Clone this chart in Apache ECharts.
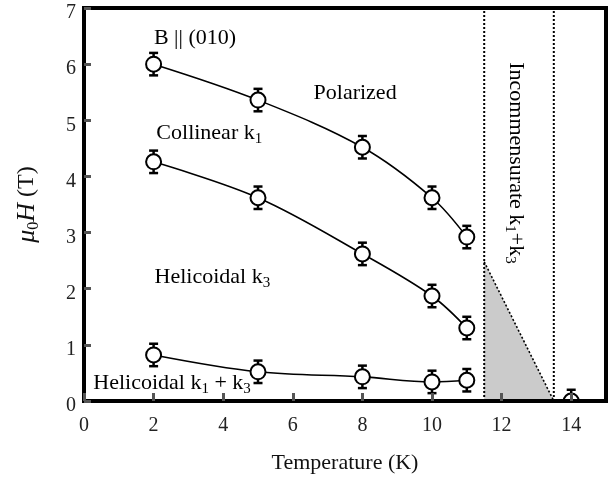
<!DOCTYPE html>
<html>
<head>
<meta charset="utf-8">
<script src="https://cdn.jsdelivr.net/npm/echarts@6/dist/echarts.min.js"></script>
<style>
  html, body { margin: 0; padding: 0; background: #fff; }
  #chart { width: 609px; height: 477px; }
</style>
</head>
<body>
<div id="chart"></div>
<script>
// Phase boundaries of the field–temperature diagram
const temps = [2, 5, 8, 10, 11];
const upperField = [6.0, 5.36, 4.52, 3.62, 2.92];
const middleField = [4.26, 3.62, 2.62, 1.87, 1.30];
const lowerField = [0.82, 0.52, 0.43, 0.34, 0.37];
const fieldError = [0.2, 0.2, 0.2, 0.2, 0.2];
const orderingPoint = [14, 0, 0.2];
const incommBounds = [11.5, 13.5];
const wedgeCorners = [[11.5, 0], [11.5, 2.48], [13.5, 0]];
const xRange = [0, 15];
const yRange = [0, 7];

const serif = 'Liberation Serif';
const ink = '#000';

const txt = { fontFamily: serif, fontSize: 22, color: '#000' };
const sub = { fontFamily: serif, fontSize: 15, color: '#000', verticalAlign: 'bottom', lineHeight: 15 };
const richText = {
  t: Object.assign({ lineHeight: 27 }, txt),
  s: sub
};

// Region names, placed in data coordinates
const regionLabels = [
  { at: [3.19, 6.47], text: '{t|B || (010)}' },
  { at: [7.79, 5.49], text: '{t|Polarized}' },
  { at: [3.6, 4.77], text: '{t|Collinear k}{s|1}' },
  { at: [3.69, 2.21], text: '{t|Helicoidal k}{s|3}' },
  { at: [2.53, 0.32], text: '{t|Helicoidal k}{s|1}{t| + k}{s|3}' },
  { at: [12.41, 4.24], text: '{t|Incommensurate k}{s|1}{t|+k}{s|3}', rotate: -90 }
];

function zip(xs, ys) { return xs.map((x, i) => [x, ys[i]]); }
function withErr(xs, ys, es) { return xs.map((x, i) => [x, ys[i], es[i]]); }

const symbolStyle = { color: '#fff', borderColor: ink, borderWidth: 2 };

function boundary(values) {
  return {
    type: 'line',
    data: zip(temps, values),
    smooth: 0.35,
    symbol: 'circle',
    symbolSize: 15,
    itemStyle: symbolStyle,
    lineStyle: { color: ink, width: 1.6 },
    z: 5,
    silent: true
  };
}

function errorBars(data, withMarker) {
  return {
    type: 'custom',
    data: data,
    clip: true,
    z: withMarker ? 6 : 3,
    silent: true,
    renderItem: function (params, api) {
      const x = api.value(0), y = api.value(1), e = api.value(2);
      const top = api.coord([x, y + e]);
      const bot = api.coord([x, y - e]);
      const c = api.coord([x, y]);
      const cap = 4.5;
      const st = { stroke: ink, lineWidth: 2.5 };
      const children = [
        { type: 'line', shape: { x1: top[0], y1: top[1], x2: bot[0], y2: bot[1] }, style: st },
        { type: 'line', shape: { x1: top[0] - cap, y1: top[1], x2: top[0] + cap, y2: top[1] }, style: st },
        { type: 'line', shape: { x1: bot[0] - cap, y1: bot[1], x2: bot[0] + cap, y2: bot[1] }, style: st }
      ];
      if (withMarker) {
        children.push({ type: 'circle', shape: { cx: c[0], cy: c[1], r: 7.5 }, style: { fill: '#fff', stroke: ink, lineWidth: 2 } });
      }
      return { type: 'group', children: children };
    }
  };
}

const dotted = { color: ink, width: 2, type: [2, 2] };

const option = {
  animation: false,
  backgroundColor: '#fff',
  grid: {
    left: 84, right: 3, top: 8, bottom: 76,
    outerBoundsMode: 'none',
    containLabel: false,
    show: true, borderWidth: 4, borderColor: ink,
    backgroundColor: 'transparent', z: 20
  },
  xAxis: {
    type: 'value', min: xRange[0], max: xRange[1], interval: 2,
    z: 21,
    splitLine: { show: false },
    axisLine: { show: false },
    axisTick: { show: true, inside: true, length: 8, lineStyle: { color: '#555', width: 3 } },
    axisLabel: { showMaxLabel: false, margin: 15, fontFamily: serif, fontSize: 20, color: '#222' },
    name: 'Temperature (K)', nameLocation: 'middle', nameGap: 51,
    nameTextStyle: { fontFamily: serif, fontSize: 22, color: '#111' }
  },
  yAxis: {
    type: 'value', min: yRange[0], max: yRange[1], interval: 1,
    z: 21,
    splitLine: { show: false },
    axisLine: { show: false },
    axisTick: { show: true, inside: true, length: 7, lineStyle: { color: '#555', width: 3 } },
    axisLabel: {
      margin: 8, verticalAlign: 'top', lineHeight: 10,
      fontFamily: serif, fontSize: 20, color: '#222'
    },
    name: '{m|μ}{z|0}{h|H}{p| (T)}', nameLocation: 'middle', nameGap: 42, nameRotate: 90,
    nameTextStyle: {
      rich: {
        m: { fontFamily: serif, fontStyle: 'italic', fontSize: 26, color: '#111', lineHeight: 30 },
        z: { fontFamily: serif, fontSize: 16, color: '#111', verticalAlign: 'bottom', lineHeight: 16 },
        h: { fontFamily: serif, fontStyle: 'italic', fontSize: 26, color: '#111', lineHeight: 30 },
        p: { fontFamily: serif, fontSize: 24, color: '#111', lineHeight: 30 }
      }
    }
  },
  series: [
    // shaded wedge of the incommensurate phase
    {
      type: 'custom',
      data: wedgeCorners,
      silent: true,
      z: 1,
      renderItem: function (params, api) {
        if (params.dataIndex !== 0) return null;
        const pts = wedgeCorners.map(p => api.coord(p));
        return {
          type: 'group',
          children: [
            { type: 'polygon', shape: { points: pts }, style: { fill: '#cbcbcb' } },
            { type: 'line', shape: { x1: pts[1][0], y1: pts[1][1], x2: pts[2][0], y2: pts[2][1] },
              style: { stroke: ink, lineWidth: 1.6, lineDash: [2, 2] } }
          ]
        };
      }
    },
    {
      type: 'line', data: [[incommBounds[0], yRange[0]], [incommBounds[0], yRange[1]]],
      symbol: 'none', lineStyle: dotted, z: 2, silent: true
    },
    {
      type: 'line', data: [[incommBounds[1], yRange[0]], [incommBounds[1], yRange[1]]],
      symbol: 'none', lineStyle: dotted, z: 2, silent: true
    },
    errorBars(withErr(temps, upperField, fieldError), false),
    errorBars(withErr(temps, middleField, fieldError), false),
    errorBars(withErr(temps, lowerField, fieldError), false),
    boundary(upperField),
    boundary(middleField),
    boundary(lowerField),
    errorBars([orderingPoint], true),
    {
      type: 'scatter',
      symbolSize: 0,
      silent: true,
      z: 8,
      itemStyle: { opacity: 1 },
      data: regionLabels.map(l => ({
        value: l.at,
        label: {
          show: true, position: 'inside', rotate: l.rotate || 0,
          opacity: 1, color: '#000', textBorderWidth: 0,
          formatter: l.text, rich: richText
        }
      }))
    }
  ]
};

const chart = echarts.init(document.getElementById('chart'), null, { renderer: 'canvas' });
chart.setOption(option);
</script>
</body>
</html>
